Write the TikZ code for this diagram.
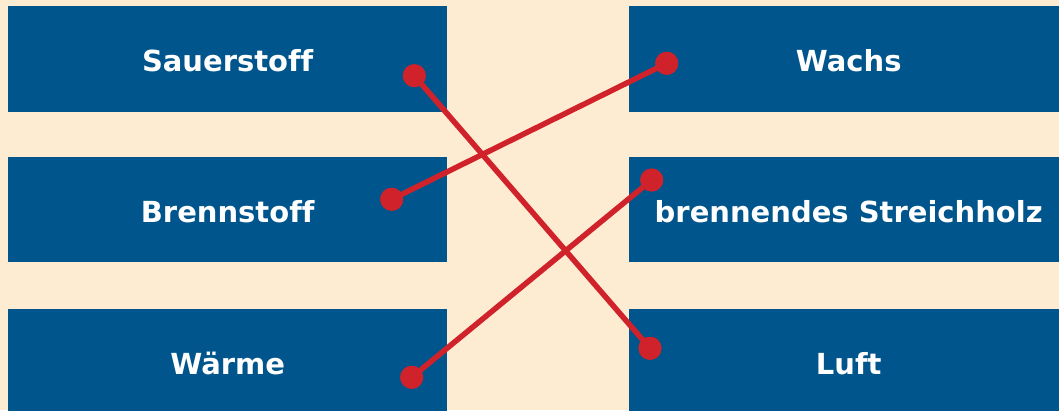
\documentclass[tikz,border=0pt]{standalone}
\usepackage{fontspec}
\setmainfont[Ligatures=NoCommon]{DejaVu Sans}
\definecolor{bg}{HTML}{FDEBD2}
\definecolor{boxblue}{HTML}{00558C}
\definecolor{linered}{HTML}{D0222A}
\begin{document}
\begin{tikzpicture}[x=1pt,y=-1pt,
  card/.style={fill=boxblue, draw=none, minimum width=439pt, minimum height=105.5pt, inner sep=0pt, anchor=north west,
    text=white, text height=25pt, text depth=0pt, font=\bfseries\fontsize{29}{34}\selectfont},
  dot/.style={circle, fill=linered, minimum size=23pt, inner sep=0pt},
  link/.style={draw=linered, line width=5.5pt}]
\fill[bg] (0,0) rectangle (1059,410);
\useasboundingbox (0,0) rectangle (1059,410);
\node[card] (sauer) at (8,6) {Sauerstoff};
\node[card] (brenn) at (8,156.7) {Brennstoff};
\node[card] (waerme) at (8,309) {Wärme};
\node[card] (wachs) at (629,6) {Wachs};
\node[card] (streich) at (629,156.7) {brennendes Streichholz};
\node[card] (luft) at (629,309) {Luft};
\node[dot] (d1) at (414.3,75.7) {};
\node[dot] (d2) at (650,348.3) {};
\node[dot] (d3) at (666.7,63.3) {};
\node[dot] (d4) at (391.7,199.3) {};
\node[dot] (d5) at (651.7,180) {};
\node[dot] (d6) at (411.7,377.3) {};
\draw[link] (d1.center) -- (d2.center);
\draw[link] (d3.center) -- (d4.center);
\draw[link] (d5.center) -- (d6.center);
\node[dot] at (d1) {};
\node[dot] at (d2) {};
\node[dot] at (d3) {};
\node[dot] at (d4) {};
\node[dot] at (d5) {};
\node[dot] at (d6) {};
\end{tikzpicture}
\end{document}
